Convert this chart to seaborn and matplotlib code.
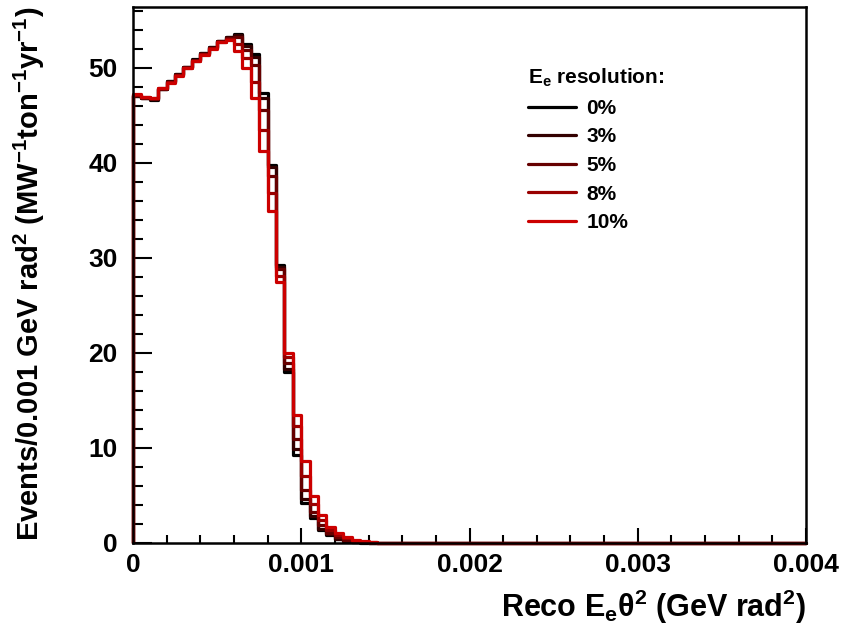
import numpy as np
import pandas as pd
import matplotlib
matplotlib.use("Agg")
import matplotlib.pyplot as plt
from matplotlib.ticker import MultipleLocator
import seaborn as sns

# bin edges: 80 bins of 0.00005 from 0 to 0.004
edges = np.linspace(0, 0.004, 81)
centers = 0.5 * (edges[:-1] + edges[1:])

# first 30 bins, the rest are empty
res_0 = [47.0, 46.8, 46.6, 47.8, 48.6, 49.3, 50.1, 50.9, 51.6, 52.2,
         52.8, 53.2, 53.6, 52.5, 51.5, 47.3, 39.8, 29.3, 18.0, 9.3,
         4.2, 2.6, 1.4, 0.8, 0.4, 0.2, 0.1, 0.05, 0.02, 0.0]
res_3 = [47.0, 46.8, 46.7, 47.8, 48.6, 49.3, 50.1, 50.8, 51.6, 52.2,
         52.8, 53.2, 53.5, 52.3, 51.1, 46.8, 39.6, 29.0, 18.3, 9.9,
         4.6, 2.8, 1.5, 0.9, 0.45, 0.25, 0.12, 0.06, 0.03, 0.01]
res_5 = [47.1, 46.8, 46.7, 47.8, 48.5, 49.2, 50.1, 50.8, 51.5, 52.1,
         52.8, 53.1, 53.2, 51.9, 50.3, 45.6, 38.6, 28.8, 18.9, 10.9,
         5.6, 3.3, 1.9, 1.1, 0.6, 0.35, 0.18, 0.09, 0.04, 0.02]
res_8 = [47.1, 46.9, 46.8, 47.9, 48.5, 49.2, 50.0, 50.7, 51.5, 52.1,
         52.7, 53.0, 52.5, 51.0, 48.5, 43.5, 36.8, 28.1, 19.6, 12.3,
         7.0, 4.1, 2.4, 1.4, 0.8, 0.5, 0.26, 0.14, 0.07, 0.03]
res_10 = [47.2, 46.9, 46.8, 47.9, 48.4, 49.1, 50.0, 50.7, 51.4, 52.0,
          52.7, 52.9, 51.8, 50.0, 46.8, 41.3, 34.9, 27.5, 20.0, 13.5,
          8.6, 4.9, 2.9, 1.7, 1.0, 0.6, 0.35, 0.2, 0.1, 0.05]

labels = ["0%", "3%", "5%", "8%", "10%"]
series = [res_0, res_3, res_5, res_8, res_10]
colors = ["#000000", "#330000", "#660000", "#990000", "#cc0000"]

sns.set_style("white")
plt.rcParams["font.family"] = ["Liberation Sans", "DejaVu Sans"]
plt.rcParams["font.weight"] = "bold"
plt.rcParams["text.color"] = "black"
plt.rcParams["axes.labelcolor"] = "black"
plt.rcParams["xtick.color"] = "black"
plt.rcParams["ytick.color"] = "black"
plt.rcParams["mathtext.fontset"] = "custom"
plt.rcParams["mathtext.rm"] = "Liberation Sans:bold"
plt.rcParams["mathtext.it"] = "Liberation Sans:bold"
plt.rcParams["mathtext.bf"] = "Liberation Sans:bold"
plt.rcParams["mathtext.default"] = "bf"

fig = plt.figure(figsize=(8.42, 6.28), dpi=100)
ax = fig.add_axes([133 / 842, 1 - 543 / 628, (806 - 133) / 842, (543 - 7) / 628])

for lab, vals, col in zip(labels, series, colors):
    w = list(vals) + [0.0] * (80 - len(vals))
    df = pd.DataFrame({"x": centers, "w": w})
    sns.histplot(data=df, x="x", weights="w", bins=edges.tolist(), element="step",
                 fill=False, color=col, linewidth=2.3, label=lab, ax=ax)
    # rising edge at x=0 like a ROOT histogram
    ax.vlines(edges[0], 0, w[0], color=col, linewidth=2.3, clip_on=False)

ax.set_xlim(0, 0.004)
ax.set_ylim(0, 56.4)
for ln in ax.lines:
    ln.set_clip_on(False)

ax.xaxis.set_major_locator(MultipleLocator(0.001))
ax.xaxis.set_minor_locator(MultipleLocator(0.0002))
ax.yaxis.set_major_locator(MultipleLocator(10))
ax.yaxis.set_minor_locator(MultipleLocator(2))
ax.xaxis.set_major_formatter(plt.FuncFormatter(lambda v, p: "0" if abs(v) < 1e-9 else f"{v:.3f}"))

ax.tick_params(axis="x", which="major", direction="in", length=11, width=1.5,
               labelsize=19, pad=7)
ax.tick_params(axis="x", which="minor", direction="in", length=5.5, width=1.5)
ax.tick_params(axis="y", which="major", direction="in", length=14, width=1.5,
               labelsize=19, pad=11)
ax.tick_params(axis="y", which="minor", direction="in", length=7, width=1.5)
ax.tick_params(bottom=True, left=True, which="both")

for s in ax.spines.values():
    s.set_linewidth(1.8)
    s.set_color("black")

ax.set_xlabel(r"Reco E$_{e}\theta^{2}$ (GeV rad$^{2}$)", fontsize=22,
              fontweight="bold", loc="right", labelpad=8)
ax.set_ylabel(r"Events/0.001 GeV rad$^{2}$ (MW$^{-1}$ton$^{-1}$yr$^{-1}$)",
              fontsize=21, fontweight="bold", loc="top", labelpad=30)

leg = ax.legend(loc="upper left", bbox_to_anchor=(528 / 842, 1 - 67 / 628),
                bbox_transform=fig.transFigure, borderpad=0, borderaxespad=0,
                title=r"E$_{e}$ resolution:", frameon=False, fontsize=15,
                title_fontsize=15, handlelength=2.3, handletextpad=0.5,
                labelspacing=0.46)
leg._legend_box.align = "left"
for t in leg.get_texts():
    t.set_fontweight("bold")
leg.get_title().set_fontweight("bold")

fig.savefig("out.png", dpi=100)
